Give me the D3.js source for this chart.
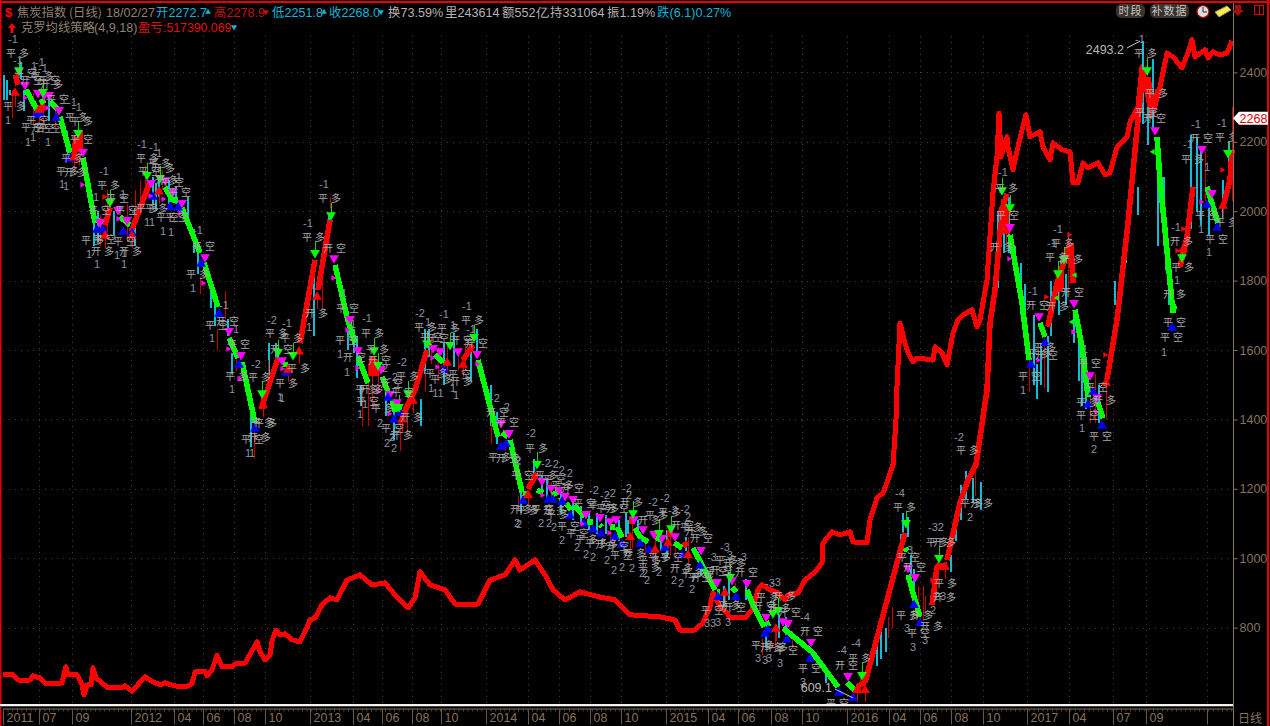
<!DOCTYPE html>
<html><head><meta charset="utf-8"><title>焦炭指数</title>
<style>html,body{margin:0;padding:0;background:#000;overflow:hidden}svg{display:block}</style>
<script src="https://cdn.jsdelivr.net/npm/d3@7/dist/d3.min.js"></script></head><body><div id="c"></div>
<script>
// x values are session slots along the time axis, y values are index prices
const slotDomain=[3,1233], priceDomain=[577,2600];
const priceTicks=[800,1000,1200,1400,1600,1800,2000,2200,2400];
const timeTicks=[[3,"2011"],[39,"07"],[72,"09"],[131,"2012"],[174,"04"],[203,"06"],[234,"08"],[265,"10"],[310,"2013"],[353,"04"],[382,"06"],[412,"08"],[441,"10"],[486,"2014"],[528,"04"],[559,"06"],[590,"08"],[621,"10"],[666,"2015"],[708,"04"],[738,"06"],[771,"08"],[802,"10"],[847,"2016"],[889,"04"],[920,"06"],[951,"08"],[983,"10"],[1027,"2017"],[1069,"04"],[1113,"07"],[1146,"09"],[1207,""]];
const equity=[[3,664],[13,664],[18,649],[30,649],[33,661],[40,655],[46,638],[58,638],[62,641],[66,687],[68,664],[77,664],[82,635],[84,606],[87,635],[91,635],[93,684],[96,655],[108,626],[120,626],[125,632],[132,617],[145,658],[153,644],[160,635],[165,641],[175,632],[185,629],[192,638],[195,672],[205,675],[207,661],[212,678],[217,721],[222,687],[232,687],[235,695],[245,698],[252,733],[257,759],[260,730],[265,707],[270,721],[272,762],[276,793],[280,779],[285,782],[292,765],[300,759],[305,788],[310,822],[315,828],[322,865],[330,886],[337,880],[347,937],[360,952],[372,923],[385,929],[395,894],[408,857],[415,886],[420,961],[430,923],[445,909],[455,868],[478,868],[490,937],[505,952],[515,995],[520,966],[535,995],[545,952],[553,909],[565,880],[580,903],[600,888],[615,880],[630,837],[660,831],[675,822],[680,793],[695,793],[703,814],[710,860],[713,900],[720,860],[727,842],[730,828],[745,828],[752,851],[758,909],[762,923],[770,909],[778,900],[785,880],[788,894],[798,900],[805,937],[815,960],[822,986],[823,1044],[832,1076],[840,1067],[850,1076],[853,1047],[867,1044],[870,1110],[877,1174],[883,1188],[888,1226],[893,1269],[896,1399],[897,1494],[900,1678],[905,1620],[908,1592],[913,1566],[917,1577],[933,1571],[935,1609],[942,1592],[947,1557],[953,1649],[958,1687],[963,1701],[972,1716],[977,1667],[980,1687],[987,1802],[993,2053],[997,2157],[999,2283],[1001,2157],[1007,2214],[1008,2185],[1013,2119],[1015,2148],[1022,2234],[1026,2278],[1030,2214],[1040,2229],[1043,2185],[1050,2148],[1053,2197],[1062,2177],[1070,2171],[1073,2082],[1078,2082],[1083,2139],[1088,2125],[1098,2139],[1105,2105],[1110,2110],[1117,2185],[1127,2214],[1130,2257],[1138,2301],[1142,2416],[1152,2272],[1160,2358],[1167,2456],[1173,2445],[1182,2413],[1188,2456],[1192,2494],[1195,2445],[1205,2465],[1208,2442],[1213,2459],[1220,2450],[1227,2456],[1232,2491]];
const fallingLegs=[
[[26,2350],[37,2292]],[[40,2312],[45,2321]],[[50,2315],[58,2292]],[[60,2272],[70,2168]],[[83,2154],[95,1966]],[[97,1975],[103,1966]],[[120,1984],[130,1960]],[[165,2070],[172,2033],[178,2033]],[[182,2010],[200,1880]],[[204,1851],[218,1724]],[[229,1635],[238,1577]],[[242,1565],[255,1390]],[[283,1560],[288,1556]],[[335,1845],[347,1695],[355,1620]],[[358,1580],[368,1505]],[[382,1523],[388,1480]],[[392,1456],[395,1422]],[[399,1442],[399,1422]],[[427,1620],[430,1610]],[[435,1586],[443,1563]],[[478,1571],[498,1350]],[[502,1362],[508,1350]],[[510,1341],[522,1191]],[[523,1188],[527,1185]],[[537,1197],[543,1188]],[[552,1182],[558,1191]],[[559,1165],[563,1168]],[[566,1159],[571,1139]],[[574,1151],[585,1119]],[[587,1105],[593,1105]],[[600,1096],[602,1090]],[[610,1090],[615,1090]],[[617,1090],[622,1059]],[[635,1087],[640,1061],[648,1047]],[[657,1050],[660,1065]],[[674,1044],[682,1030]],[[693,1030],[715,909]],[[717,903],[720,903]],[[732,915],[737,903]],[[747,909],[753,865],[764,802]],[[765,808],[770,814]],[[783,799],[812,730],[838,629]],[[847,641],[855,620]],[[905,1030],[907,1020]],[[908,952],[913,900],[920,831]],[[1010,1932],[1022,1736],[1029,1571]],[[1040,1678],[1045,1638]],[[1075,1716],[1082,1609],[1088,1465]],[[1098,1448],[1103,1404]],[[1157,2214],[1160,2090],[1165,1946],[1173,1707]],[[1172,1736],[1175,1716]],[[1207,2070],[1213,2012],[1218,1966]]];
const risingLegs=[
[[15,2393],[18,2364]],[[42,2290],[43,2320]],[[74,2160],[76,2215]],[[80,2170],[80,2230]],[[105,1960],[110,2010]],[[131,1940],[150,2085]],[[262,1430],[265,1475]],[[263,1448],[278,1577]],[[300,1620],[315,1860]],[[318,1773],[330,1975]],[[372,1525],[372,1580]],[[376,1525],[376,1570]],[[402,1407],[415,1485],[427,1600]],[[463,1571],[473,1615]],[[528,1200],[537,1246]],[[632,1100],[632,1120]],[[657,1055],[657,1075]],[[670,1060],[670,1080]],[[683,1035],[688,1045]],[[857,629],[865,643]],[[865,641],[905,1073]],[[932,865],[937,975],[947,980]],[[947,995],[960,1160],[968,1226],[976,1270],[987,1485],[990,1678],[995,1773],[1000,1938],[1004,2033]],[[1000,1990],[1007,2050]],[[1006,1950],[1006,2010]],[[1007,1995],[1010,2004]],[[1048,1667],[1057,1793],[1070,1909]],[[1061,1780],[1061,1830]],[[1071,1909],[1073,1793]],[[1107,1514],[1117,1687],[1128,1966],[1135,2176],[1143,2407]],[[1148,2387],[1153,2292]],[[1155,2312],[1158,2350]],[[1180,1840],[1187,1926],[1193,2070]],[[1223,2012],[1230,2090],[1232,2177]]];
const downBars=[[3,2393,2321],[6,2378,2321],[9,2350,2335],[20,2430,2380],[23,2350,2290],[48,2320,2260],[66,2230,2170],[93,2000,1900],[97,2000,1910],[113,2000,1930],[134,2010,1900],[152,2100,2020],[155,2080,2000],[158,2090,2040],[168,2090,2020],[175,2070,2020],[187,2040,1960],[193,1950,1880],[197,1880,1820],[210,1790,1720],[214,1740,1670],[227,1690,1640],[231,1590,1530],[250,1420,1320],[268,1620,1480],[275,1620,1545],[277,1600,1560],[313,1820,1640],[328,1990,1940],[347,1660,1600],[353,1660,1590],[356,1640,1520],[360,1500,1440],[385,1480,1410],[393,1420,1340],[420,1460,1380],[424,1660,1530],[428,1660,1580],[443,1620,1500],[453,1650,1550],[470,1600,1510],[476,1660,1590],[490,1500,1380],[496,1420,1330],[520,1230,1130],[533,1285,1220],[541,1240,1190],[546,1230,1170],[560,1200,1130],[572,1170,1110],[580,1150,1100],[588,1130,1080],[596,1130,1070],[605,1125,1070],[618,1110,1050],[625,1130,1060],[627,1110,1070],[637,1110,1060],[660,1080,1020],[666,1080,1000],[685,1060,1020],[700,1000,950],[723,920,860],[728,960,880],[745,940,880],[765,790,740],[778,840,770],[785,830,780],[825,680,640],[835,650,630],[876,780,690],[880,790,710],[885,800,730],[902,1130,1070],[907,1120,1060],[900,1070,1000],[910,1010,950],[913,970,890],[935,960,900],[950,1010,960],[955,1110,1050],[960,1210,1110],[965,1250,1170],[972,1230,1160],[980,1220,1140],[997,2000,1780],[1003,2020,1880],[1008,2040,1880],[1014,1900,1820],[1020,1850,1700],[1024,1790,1640],[1033,1700,1500],[1036,1560,1460],[1040,1620,1500],[1047,1640,1480],[1050,1800,1640],[1058,1820,1700],[1060,1860,1770],[1065,1820,1730],[1073,1700,1620],[1078,1680,1510],[1081,1570,1440],[1085,1580,1430],[1098,1500,1390],[1114,1800,1730],[1125,1905,1850],[1137,2070,1990],[1142,2490,2250],[1147,2300,2190],[1152,2440,2230],[1157,2100,1900],[1163,2100,1900],[1165,1950,1830],[1168,1850,1730],[1190,2220,1950],[1196,2210,2000],[1200,2180,1960],[1208,2030,1930],[1215,2010,1970],[1222,2090,1980],[1228,2200,2120]];
const upBars=[[12,2350,2270],[15,2340,2300],[33,2340,2250],[43,2300,2240],[55,2290,2240],[74,2210,2120],[79,2230,2130],[100,1990,1900],[107,2060,1930],[127,2020,1910],[135,2060,1990],[140,2090,2030],[145,2130,2060],[162,2120,2060],[200,1810,1760],[217,1660,1600],[225,1770,1690],[236,1590,1540],[254,1400,1290],[268,1570,1470],[322,1810,1720],[330,2040,2010],[362,1490,1380],[368,1560,1380],[372,1540,1430],[378,1570,1480],[400,1440,1310],[407,1430,1360],[425,1540,1480],[431,1640,1560],[438,1610,1510],[447,1620,1530],[458,1600,1540],[465,1620,1540],[491,1440,1330],[505,1360,1310],[518,1180,1140],[551,1220,1160],[610,1110,1050],[632,1120,1030],[645,1060,1010],[655,1060,1000],[670,1090,1010],[675,1050,1010],[688,1060,1000],[735,930,880],[762,770,720],[775,800,730],[792,790,740],[860,665,610],[888,830,770],[892,860,800],[918,920,860],[923,920,820],[925,890,840],[975,1260,1180],[1006,2050,1950],[1029,1630,1480],[1044,1640,1490],[1068,1940,1750],[1090,1480,1390],[1095,1530,1390],[1106,1500,1400],[1147,2450,2310],[1205,2170,2030],[1232,2300,2030]];
const shortEntries=[[25,2364],[38,2341],[44,2335],[49,2335],[59,2292],[83,2171],[100,1969],[118,2004],[127,1975],[151,2082],[165,2090],[173,2056],[182,2024],[205,1868],[229,1655],[241,1586],[282,1571],[334,1865],[350,1690],[358,1600],[381,1546],[390,1474],[397,1450],[433,1606],[440,1597],[458,1597],[477,1589],[501,1390],[509,1361],[542,1223],[551,1203],[559,1197],[565,1180],[573,1171],[586,1128],[600,1119],[610,1107],[616,1113],[634,1113],[643,1084],[654,1070],[662,1059],[675,1064],[701,1024],[717,932],[732,937],[747,929],[766,831],[783,819],[788,814],[811,759],[848,661],[908,972],[915,946],[1010,1955],[1039,1698],[1074,1736],[1090,1528],[1097,1465],[1155,2234],[1202,2180],[1212,2053]];
const shortCovers=[[36,2278],[41,2278],[56,2269],[69,2151],[97,1946],[103,1946],[123,1940],[132,1937],[153,2041],[170,2012],[178,2010],[201,1848],[219,1704],[239,1557],[255,1373],[286,1534],[388,1462],[394,1399],[400,1419],[444,1543],[501,1321],[506,1329],[523,1165],[548,1168],[553,1168],[562,1162],[570,1122],[584,1099],[593,1082],[601,1070],[615,1061],[622,1038],[640,1041],[649,1024],[665,1030],[682,1009],[700,978],[718,888],[736,888],[765,782],[768,793],[787,765],[810,710],[839,612],[853,597],[914,865],[920,813],[1031,1557],[1045,1620],[1088,1442],[1093,1479],[1102,1381],[1172,1664],[1217,1952],[1207,2018]];
const longEntries=[[15,2341],[39,2292],[74,2154],[105,1929],[132,1929],[159,2056],[263,1442],[299,1595],[317,1753],[413,1453],[402,1399],[463,1557],[447,1563],[288,1543],[528,1182],[630,1061],[655,1024],[668,1044],[688,1009],[725,900],[776,796],[857,620],[865,620],[945,975],[938,975],[1006,1943],[1059,1776],[1106,1505],[1183,1889],[1223,2015]];
const longExits=[[19,2407],[43,2344],[78,2226],[110,2027],[147,2105],[160,2096],[331,1989],[315,1880],[262,1476],[278,1595],[293,1586],[374,1600],[378,1557],[408,1476],[427,1620],[450,1615],[474,1638],[399,1436],[537,1272],[659,1073],[671,1087],[633,1130],[730,946],[778,851],[773,842],[862,664],[906,1102],[939,1001],[1002,2061],[1010,2012],[1058,1822],[1064,1863],[1182,1868],[1147,2407],[1228,2168]];
const magentaPips=[[25,2327],[47,2298],[82,2076],[118,1978],[150,2044],[163,2035],[180,1995],[203,1793],[228,1603],[239,1517],[282,1546],[333,1808],[347,1658],[357,1548],[378,1479],[389,1416],[432,1577],[437,1551],[477,1560],[542,1182],[582,1099],[609,1073],[1009,1863],[1073,1652],[1038,1571],[1096,1422],[1201,2027]];
const redPips=[[104,2041],[1046,1753],[1105,1586],[1222,2119],[1177,1886],[1183,1949],[1069,1932],[932,937]];
const greenPips=[[1072,1681],[1075,1816],[1057,1750],[1153,2171]];
const tradeLabels=[[18,2456,"平多"],[26,2399,"平空"],[32,2378,"开空"],[43,2390,"平多"],[49,2378,"开空"],[52,2367,"开多"],[58,2324,"平空"],[77,2272,"平多"],[82,2260,"平多"],[15,2304,"平多"],[38,2263,"平空"],[43,2240,"开空"],[33,2243,"平空"],[50,2240,"平空"],[82,2208,"平空"],[73,2154,"平多"],[68,2116,"平多"],[76,2113,"开多"],[109,2076,"平多"],[118,2038,"平空"],[100,2004,"平空"],[127,2004,"平空"],[93,1917,"平多"],[105,1920,"平空"],[103,1886,"开多"],[125,1914,"平空"],[131,1886,"开多"],[148,2154,"平多"],[160,2139,"平多"],[164,2125,"开多"],[150,2116,"平空"],[173,2084,"平空"],[167,2090,"开多"],[180,2056,"平空"],[157,2010,"平多"],[148,2010,"平多"],[168,1984,"平空"],[177,1984,"平空"],[204,1900,"平空"],[198,1819,"平多"],[217,1672,"平空"],[228,1684,"开空"],[239,1618,"平空"],[237,1525,"平多"],[260,1523,"平多"],[263,1393,"平多"],[260,1350,"开多"],[253,1344,"平空"],[330,2038,"平多"],[314,1926,"平多"],[335,1894,"开空"],[317,1707,"开多"],[277,1649,"平多"],[292,1635,"平多"],[282,1603,"开空"],[299,1548,"平多"],[287,1505,"平多"],[266,1390,"平多"],[348,1721,"平空"],[347,1629,"平空"],[373,1649,"平多"],[355,1580,"开空"],[378,1603,"平多"],[380,1571,"开空"],[392,1505,"开空"],[372,1488,"开多"],[367,1488,"平多"],[368,1453,"平空"],[408,1525,"平多"],[403,1479,"平空"],[383,1433,"平多"],[412,1407,"开多"],[393,1375,"平空"],[402,1355,"开多"],[426,1667,"平多"],[449,1664,"平多"],[432,1638,"平空"],[438,1635,"开空"],[462,1629,"开空"],[473,1687,"平多"],[477,1620,"开空"],[437,1534,"平多"],[442,1517,"平多"],[460,1531,"平空"],[462,1511,"开多"],[498,1422,"开空"],[508,1393,"平空"],[500,1292,"平多"],[508,1289,"开空"],[537,1318,"平多"],[523,1240,"平空"],[522,1142,"开多"],[528,1139,"平多"],[547,1240,"平多"],[555,1229,"平空"],[563,1211,"平多"],[573,1203,"开空"],[632,1162,"开多"],[585,1159,"平空"],[600,1154,"平空"],[608,1145,"平多"],[618,1145,"开空"],[657,1125,"平多"],[670,1133,"平多"],[650,1110,"开多"],[683,1096,"开空"],[692,1090,"平多"],[697,1079,"开多"],[702,1058,"开空"],[543,1142,"平空"],[555,1139,"开多"],[558,1128,"平多"],[569,1093,"平空"],[578,1073,"平空"],[587,1056,"平多"],[597,1044,"平多"],[607,1041,"开多"],[618,1035,"开空"],[622,1009,"平空"],[635,1015,"开多"],[650,995,"平多"],[660,1004,"平多"],[672,1004,"平空"],[650,975,"平多"],[682,972,"开多"],[693,958,"平多"],[703,946,"开空"],[727,995,"平多"],[735,986,"开多"],[722,966,"开空"],[747,960,"开空"],[717,963,"平空"],[700,946,"平空"],[713,851,"平空"],[730,865,"平多"],[735,860,"开空"],[768,888,"平多"],[785,891,"开多"],[765,862,"开空"],[780,857,"开多"],[790,845,"开空"],[812,790,"开空"],[810,684,"平空"],[763,750,"平多"],[772,744,"开多"],[777,744,"平多"],[787,736,"平空"],[847,692,"开空"],[860,713,"平多"],[838,583,"平空"],[905,1148,"平多"],[909,1004,"平空"],[915,975,"开空"],[908,837,"平多"],[922,837,"开多"],[919,785,"平空"],[932,805,"开多"],[938,1047,"平多"],[945,1047,"开多"],[946,929,"平多"],[945,888,"开多"],[972,1159,"平多"],[982,1159,"开多"],[968,1312,"平多"],[1007,2067,"平多"],[1008,1989,"平空"],[1002,1897,"开多"],[1063,1909,"平多"],[1057,1868,"平多"],[1072,1863,"开多"],[1073,1767,"开空"],[1038,1730,"开空"],[1058,1727,"开多"],[1045,1609,"平多"],[1040,1592,"平多"],[1047,1586,"开空"],[1030,1525,"平空"],[1090,1563,"平空"],[1088,1450,"平多"],[1097,1494,"平空"],[1105,1456,"开多"],[1088,1413,"平空"],[1101,1352,"平空"],[1182,1914,"开多"],[1183,1840,"平多"],[1175,1762,"开多"],[1175,1681,"平空"],[1172,1638,"平空"],[1227,1969,"平多"],[1207,1989,"平空"],[1217,1920,"平空"],[1146,2456,"平多"],[1157,2341,"平多"],[1155,2269,"开空"],[1147,2286,"平空"],[1202,2211,"开空"],[1227,2214,"平多"],[1193,2151,"平多"]];
const tradeCounts=[[13,2497,"-1"],[18,2436,"-1"],[34,2419,"1"],[40,2430,"-1"],[35,2404,"1"],[43,2413,"-1"],[72,2315,"-1"],[77,2301,"-1"],[8,2263,"1"],[28,2200,"1"],[33,2214,"1"],[48,2200,"1"],[62,2079,"1"],[66,2073,"1"],[104,2116,"-1"],[96,2041,"1"],[123,2050,"1"],[89,1877,"1"],[97,1848,"1"],[117,1874,"1"],[124,1880,"1"],[124,1848,"1"],[142,2194,"-1"],[154,2185,"-1"],[159,2168,"1"],[177,2099,"-1"],[147,1969,"1"],[152,1969,"1"],[163,1943,"1"],[171,1940,"1"],[198,1946,"-1"],[193,1779,"1"],[224,1730,"-1"],[236,1661,"1"],[212,1635,"1"],[232,1488,"1"],[256,1560,"-2"],[248,1303,"1"],[252,1303,"1"],[324,2079,"-1"],[308,1966,"-1"],[309,1667,"1"],[272,1687,"-2"],[287,1678,"-1"],[280,1465,"1"],[282,1462,"1"],[344,1765,"1"],[353,1675,"1"],[367,1693,"-1"],[340,1589,"1"],[347,1537,"1"],[385,1548,"2"],[393,1522,"-2"],[365,1445,"1"],[360,1416,"1"],[402,1566,"-2"],[380,1390,"2"],[387,1332,"2"],[394,1318,"2"],[392,1350,"2"],[420,1707,"-2"],[428,1681,"1"],[444,1704,"-1"],[453,1672,"1"],[467,1727,"-1"],[471,1661,"-1"],[431,1491,"1"],[438,1476,"11"],[453,1491,"1"],[456,1471,"1"],[495,1462,"-2"],[505,1436,"-2"],[518,1283,"2"],[531,1361,"-2"],[518,1280,"2"],[517,1102,"2"],[519,1099,"2"],[546,1275,"-2"],[554,1272,"-2"],[560,1254,"-2"],[568,1246,"-2"],[594,1197,"-2"],[605,1182,"-2"],[611,1188,"-2"],[627,1203,"-2"],[629,1182,"2"],[653,1162,"-2"],[665,1174,"-2"],[673,1139,"-2"],[685,1142,"-2"],[688,1119,"2"],[541,1102,"2"],[549,1102,"2"],[554,1090,"2"],[562,1053,"2"],[577,1032,"2"],[586,1012,"2"],[593,1004,"2"],[607,995,"2"],[614,966,"2"],[622,975,"2"],[632,972,"2"],[642,958,"2"],[645,958,"2"],[647,937,"2"],[659,961,"2"],[674,937,"2"],[681,929,"2"],[692,911,"2"],[725,1033,"-3"],[728,1010,"-3"],[742,1004,"-3"],[712,1004,"-3"],[770,929,"-3"],[776,932,"-3"],[710,813,"33"],[718,816,"3"],[728,816,"3"],[805,831,"-4"],[803,643,"3"],[758,713,"3"],[765,707,"3"],[769,713,"3"],[780,698,"3"],[842,736,"-4"],[856,756,"-4"],[900,1188,"-4"],[910,1024,"3"],[907,799,"3"],[925,765,"3"],[913,744,"3"],[936,1090,"-32"],[933,851,"2"],[940,891,"23"],[959,1350,"-2"],[970,1119,"2"],[1003,2113,"-1"],[1058,1949,"-1"],[1052,1909,"-1"],[1033,1770,"-1"],[1023,1485,"1"],[1085,1603,"1"],[1082,1375,"1"],[1094,1315,"2"],[1176,1955,"-1"],[1177,1802,"1"],[1164,1595,"1"],[1201,1949,"1"],[1209,1883,"1"],[1140,2497,"-1"],[1196,2252,"-1"],[1222,2254,"-1"],[1188,2194,"-1"],[1207,2128,"1"]];
const peak={slot:1141,price:2493.2}, trough={slot:853,price:609.1}, lastClose=2268;
const quoteFields=[["开","2272.7","#13b5d8"],["高","2278.9","#c80f0f"],["低","2251.8","#13b5d8"],["收","2268.0","#13b5d8"]];

const W=1270,H=726;
const x=d3.scaleLinear().domain(slotDomain).range([3,1233]);
const y=d3.scaleLinear().domain(priceDomain).range([705,3]);
const svg=d3.select("#c").append("svg").attr("width",W).attr("height",H).style("background","#000");
const LAT='"Liberation Sans",Arial,sans-serif', CJK='"Noto Sans CJK SC",sans-serif';
const AX="#85735b";
const gridColor="#66341d";
const g=svg.append("g");
// grid
g.append("g").selectAll("line").data(priceTicks).join("line").attr("x1",3).attr("x2",1233).attr("y1",d=>Math.round(y(d))+.5).attr("y2",d=>Math.round(y(d))+.5).attr("stroke",gridColor).attr("stroke-dasharray","1 5");
g.append("g").selectAll("line").data(timeTicks.slice(1)).join("line").attr("y1",36).attr("y2",704).attr("x1",d=>Math.round(x(d[0]))+.5).attr("x2",d=>Math.round(x(d[0]))+.5).attr("stroke",gridColor).attr("stroke-dasharray","1 5");
// equity
const line=d3.line().x(d=>x(d[0])).y(d=>y(d[1]));
const plot=svg.append("g").attr("shape-rendering","crispEdges");
plot.append("path").datum(equity).attr("d",line).attr("fill","none").attr("stroke","#ff0000").attr("stroke-width",5).attr("stroke-linejoin","round");
// candle ranges
const drawBars=(data,col)=>plot.append("g").selectAll("rect").data(data).join("rect").attr("x",d=>Math.round(x(d[0]))).attr("width",col=="#c80000"?1:2).attr("y",d=>y(d[1])).attr("height",d=>y(d[2])-y(d[1])).attr("fill",col);
drawBars(downBars,"#12bcd8");drawBars(upBars,"#c80000");
// trend legs
const drawLegs=(legs,col)=>plot.append("g").selectAll("path").data(legs).join("path").attr("d",line).attr("fill","none").attr("stroke",col).attr("stroke-width",5.5).attr("stroke-linejoin","round");
drawLegs(risingLegs,"#ff0000");drawLegs(fallingLegs,"#00ff00");
// signal markers
const tri=d3.symbol().type(d3.symbolTriangle);
const marks=svg.append("g");
const drawMarks=(data,col,rot,size,dy=0)=>marks.append("g").selectAll("path").data(data).join("path").attr("d",tri.size(size)()).attr("fill",col).attr("transform",d=>`translate(${x(d[0])},${y(d[1])+dy}) rotate(${rot})`);
const drawStems=(data,col,a,b)=>marks.append("g").selectAll("line").data(data).join("line").attr("x1",d=>Math.round(x(d[0]))+.5).attr("x2",d=>Math.round(x(d[0]))+.5).attr("y1",d=>y(d[1])+a).attr("y2",d=>y(d[1])+b).attr("stroke",col);
drawStems(longEntries,"#e00000",0,12);drawStems(longExits,"#00e000",-12,0);
drawMarks(shortEntries,"#ff00ff",180,42);
drawMarks(shortCovers,"#0000ff",0,42);
drawMarks(longEntries,"#ff0000",0,42);
drawMarks(longExits,"#00ff00",180,42);
drawMarks(magentaPips,"#ff00ff",90,14);
drawMarks(redPips,"#ff0000",90,14);
drawMarks(greenPips,"#00ff00",-90,14);
// trade labels
svg.append("clipPath").attr("id","plotClip").append("rect").attr("x",0).attr("y",0).attr("width",1233).attr("height",704);
const labels=svg.append("g").attr("clip-path","url(#plotClip)");
labels.append("g").selectAll("text").data(tradeLabels).join("text").attr("x",d=>x(d[0])+1).attr("y",d=>y(d[1])+4).attr("text-anchor","middle").attr("font-family",CJK).attr("font-size",10).attr("letter-spacing",3).attr("fill","#a8a8a8").text(d=>d[2]);
labels.append("g").selectAll("text").data(tradeCounts).join("text").attr("x",d=>x(d[0])).attr("y",d=>y(d[1])+4).attr("text-anchor","middle").attr("font-family",LAT).attr("font-size",11).attr("fill","#8b93a0").text(d=>d[2]);
// extreme annotations
const note=(anchorX,txtY,val,lx1,ly1,px)=>{svg.append("text").attr("x",anchorX).attr("y",txtY).attr("text-anchor","end").attr("font-family",LAT).attr("font-size",12.5).attr("fill","#b8b8b8").text(val);svg.append("line").attr("x1",lx1).attr("y1",ly1).attr("x2",px[0]).attr("y2",px[1]).attr("stroke","#d0d0d0");};
note(1124,54,peak.price.toFixed(1),1127,48,[x(peak.slot)-1,y(peak.price)+1]);
note(832,692,trough.price.toFixed(1),835,689,[x(trough.slot),y(trough.price)+4]);
// frame
svg.append("rect").attr("x",0).attr("y",1).attr("width",W).attr("height",2).attr("fill","#e60000");
svg.append("rect").attr("x",0).attr("y",0).attr("width",1.5).attr("height",H).attr("fill","#e60000");
svg.append("rect").attr("x",1267).attr("y",0).attr("width",2).attr("height",H).attr("fill","#e60000");
svg.append("rect").attr("x",0).attr("y",704).attr("width",1233).attr("height",2).attr("fill","#f2f2f2");
svg.append("rect").attr("x",0).attr("y",706).attr("width",1233).attr("height",1).attr("fill","#444");
svg.append("rect").attr("x",1233).attr("y",3).attr("width",1).attr("height",H).attr("fill",AX);
// axes
const xAxis=d3.axisBottom(x).tickValues(timeTicks.map(d=>d[0])).tickSize(16).tickFormat(v=>timeTicks.find(d=>d[0]===v)[1]);
const ax=svg.append("g").attr("transform","translate(0,708.5)").call(xAxis);
ax.select(".domain").attr("stroke",AX);
ax.selectAll("line").attr("stroke","#6a5842");
ax.selectAll("text").attr("x",3).attr("y",13.5).attr("dy",0).attr("text-anchor","start").attr("font-family",LAT).attr("font-size",12.5).attr("fill",AX);
const minor=d3.axisBottom(x).tickValues(d3.range(3,1233,4.6)).tickSize(3).tickFormat("");
const mg=svg.append("g").attr("transform","translate(0,708.5)").call(minor);mg.select(".domain").remove();mg.selectAll("line").attr("stroke","#5a4a38");
const yAxis=d3.axisRight(y).tickValues(priceTicks).tickSize(4).tickPadding(2).tickFormat(d3.format("d"));
const ay=svg.append("g").attr("transform","translate(1233.5,0)").call(yAxis);
ay.select(".domain").remove();ay.selectAll("line").attr("stroke",AX);
ay.selectAll("text").attr("font-family",LAT).attr("font-size",12.5).attr("fill",AX);
svg.append("text").attr("x",1238).attr("y",723).attr("font-family",CJK).attr("font-size",12).attr("fill",AX).text("日线");
// last price tag
const ly=y(lastClose);
svg.append("path").attr("d",`M1233,${ly} L1239,${ly-6.5} H1268 V${ly+6.5} H1239 Z`).attr("fill","#fff");
svg.append("text").attr("x",1253.5).attr("y",ly+4.5).attr("text-anchor","middle").attr("font-family",LAT).attr("font-size",12.5).attr("fill","#e00000").text(lastClose);
// header
const head=svg.append("g");
const T=(px,py,str,col,fam=CJK,fs=12.3)=>head.append("text").attr("x",px).attr("y",py).attr("font-family",fam).attr("font-size",fs).attr("fill",col).text(str);
T(5,17,"$","#ff0000",LAT,13).attr("font-weight","bold");
T(17,17,"焦炭指数 (日线)","#8f8272");
T(106,17,"18/02/27","#8f8272",LAT,12.6);
const headX=[156,214,272,329];
quoteFields.forEach((f,i)=>{T(headX[i],17,f[0],f[2]);T(headX[i]+12.5,17,f[1],f[2],LAT,12.6);
 const up=i%2==0;const tx=headX[i]+51;head.append("path").attr("d",tri.size(14)()).attr("fill",i==1?"#c80f0f":"#13b5d8").attr("transform",`translate(${tx+1},12) rotate(${up?0:180})`);});
const rest=[[388,"换","73.59%"],[445,"里","243614"],[502,"额","552亿"],[550,"持","331064"],[607,"振","1.19%"]];
rest.forEach(r=>{T(r[0],17,r[1],"#b4b4b4");T(r[0]+12.5,17,r[2],"#b4b4b4",LAT,12.6);});
T(657,17,"跌","#13b5d8");T(669.5,17,"(6.1)0.27%","#13b5d8",LAT,12.6);
head.append("path").attr("d","M12,23 L16,28 H13.5 V33 H10.5 V28 H8 Z").attr("fill","#ff0000");
T(21,32,"克罗均线策略","#8f8272");T(94,32,"(4,9,18)","#8f8272",LAT,12.6);
T(138,32,"盈亏","#e01010");T(163,32,":517390.069","#e01010",LAT,12.3);
head.append("path").attr("d",tri.size(16)()).attr("fill","#13b5d8").attr("transform","translate(234,27) rotate(180)");
// toolbar
const btn=(bx,bw,s)=>{head.append("rect").attr("x",bx).attr("y",4).attr("width",bw).attr("height",14).attr("rx",5).attr("fill","#3a322b");head.append("text").attr("x",bx+bw/2).attr("y",15).attr("text-anchor","middle").attr("font-family",CJK).attr("font-size",11).attr("letter-spacing",1).attr("fill","#c4c4c4").text(s);};
btn(1116,29,"时段");btn(1150,39,"补数据");
head.append("circle").attr("cx",1203).attr("cy",11.5).attr("r",6).attr("fill","#ddd").attr("stroke","#a00").attr("stroke-width",1.2);
head.append("path").attr("d","M1203,7 V12 H1207").attr("stroke","#333").attr("fill","none");
head.append("path").attr("d","M1215,12 L1227,6 L1231,10 L1219,17 Z").attr("fill","#ffe94a").attr("stroke","#997");
head.append("path").attr("d","M1235,5 H1241 V10 H1244 L1238,16 L1232,10 H1235 Z").attr("fill","#a01010");
head.append("rect").attr("x",1254.5).attr("y",5.5).attr("width",9).attr("height",9).attr("fill","none").attr("stroke","#e00000");
head.append("line").attr("x1",1259.5).attr("x2",1259.5).attr("y1",5).attr("y2",15).attr("stroke","#e00000");
</script></body></html>
